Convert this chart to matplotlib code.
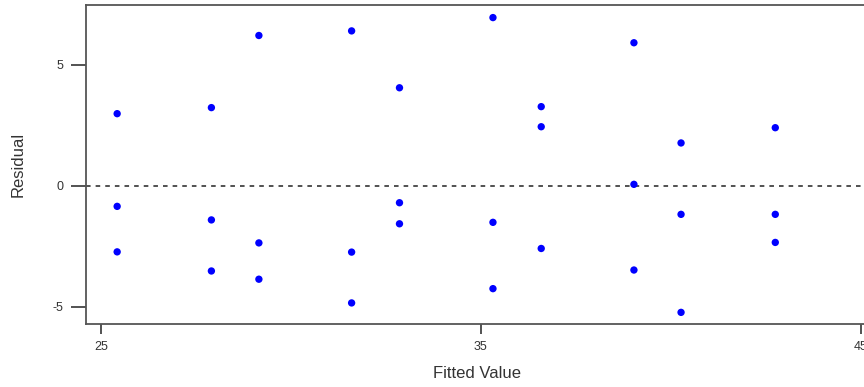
import matplotlib
matplotlib.use("Agg")
import matplotlib.pyplot as plt

# Fitted values (one per group, three residuals each)
fitted = [25.43, 27.91, 29.16, 31.60, 32.86, 35.32, 36.59, 39.03, 40.27, 42.75]
resid_a = [2.97, 3.22, 6.20, 6.39, 4.04, 6.94, 3.26, 5.90, 1.76, 2.39]
resid_b = [-0.86, -1.42, -2.37, -2.75, -0.71, -1.52, 2.43, 0.05, -1.19, -1.19]
resid_c = [-2.74, -3.53, -3.87, -4.85, -1.58, -4.26, -2.60, -3.49, -5.24, -2.35]

x_ticks = [25, 35, 45]
y_ticks = [-5, 0, 5]

plt.rcParams["font.family"] = ["Liberation Sans", "DejaVu Sans"]

W, H = 864, 387
fig = plt.figure(figsize=(W / 100, H / 100), dpi=100)
left, right, top, bottom = 86, 868, 5, 323.5
ax = fig.add_axes([left / W, 1 - bottom / H, (right - left) / W, (bottom - top) / H])

xs = fitted * 3
ys = resid_a + resid_b + resid_c
ax.scatter(xs, ys, s=28, color="#0000ff", edgecolors="none", zorder=3)
ax.axhline(0, color="#222222", lw=1.1, ls=(0, (3, 3.3)), zorder=2)

ax.set_xlim(24.61, 45.19)
ax.set_ylim(-5.70, 7.46)
ax.set_xticks(x_ticks)
ax.set_yticks(y_ticks)
ax.set_xticklabels([str(v) for v in x_ticks])
ax.set_yticklabels([str(v) for v in y_ticks])

for sp in ax.spines.values():
    sp.set_color("#555555")
    sp.set_linewidth(1.3)
ax.spines["right"].set_visible(False)

ax.tick_params(axis="x", length=7.2, width=1.3, color="#444444", labelsize=9,
               labelcolor="#333333", pad=5.5)
ax.tick_params(axis="y", length=10.8, width=1.3, color="#444444", labelsize=9,
               labelcolor="#333333", pad=5.5)

ax.set_xlabel("Fitted Value", fontsize=12, color="#333333", labelpad=9)
ax.set_ylabel("Residual", fontsize=12, color="#333333", labelpad=19)

fig.savefig("out.png", dpi=100)
